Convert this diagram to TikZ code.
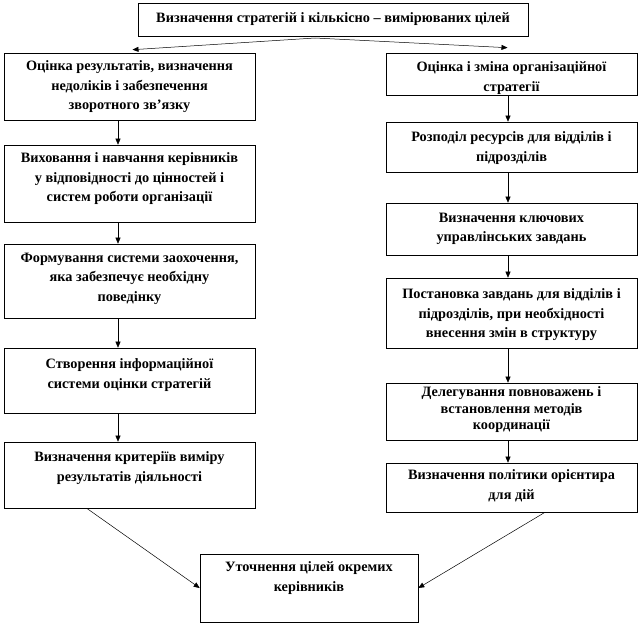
\documentclass[tikz,border=0pt]{standalone}
\usepackage{fontspec}
\setmainfont{Liberation Serif}
\usetikzlibrary{arrows.meta,calc}
\newcommand\bxt[4][9pt]{\parbox[c][#3][t]{#2}{\centering\vspace*{#1}#4\par}}
\tikzset{
  box/.style={draw=black, line width=0.6pt, inner sep=0pt, fill=white,
    font=\fontsize{14.3}{19.5}\selectfont\bfseries},
  conn/.style={line width=0.5pt, -{Triangle[length=6pt,width=5pt]}},
}
\begin{document}
\begin{tikzpicture}[x=1pt,y=-1pt]
\useasboundingbox[fill=white] (0,0) rectangle (640,625);
% top
\node[box] (T) at (333,19.5) {\parbox[c][33pt][c]{390pt}{\centering Визначення стратегій і кількісно – вимірюваних цілей}};
% left column
\node[box] (L1) at (129.5,86.5) {\bxt[8pt]{251pt}{67pt}{Оцінка результатів, визначення\\ недоліків і забезпечення\\ зворотного зв’язку}};
\node[box] (L2) at (129.5,183.5) {\bxt[8pt]{251pt}{77pt}{Виховання і навчання керівників\\ у відповідності до цінностей і\\ систем роботи організації}};
\node[box] (L3) at (129.5,281) {\bxt{251pt}{74pt}{Формування системи заохочення,\\ яка забезпечує необхідну\\ поведінку}};
\node[box] (L4) at (129.5,380.5) {\bxt[11pt]{251pt}{65pt}{Створення інформаційної\\ системи оцінки стратегій}};
\node[box] (L5) at (129.5,475) {\bxt[10pt]{251pt}{66pt}{Визначення критеріїв виміру\\ результатів діяльності}};
% right column
\node[box] (R1) at (511.5,74) {\bxt[9pt]{251pt}{42pt}{Оцінка і зміна організаційної\\ стратегії}};
\node[box] (R2) at (511.5,147) {\bxt[10pt]{251pt}{50pt}{Розподіл ресурсів для відділів і\\ підрозділів}};
\node[box] (R3) at (511.5,229) {\bxt[10pt]{251pt}{52pt}{Визначення ключових\\ управлінських завдань}};
\node[box] (R4) at (511.5,313) {\bxt[11pt]{251pt}{70pt}{Постановка завдань для відділів і\\ підрозділів, при необхідності\\ внесення змін в структуру}};
\node[box] (R5) at (511.5,411.5) {\bxt[4pt]{251pt}{57pt}{\fontsize{14.3}{16.5}\selectfont Делегування повноважень і\\ встановлення методів\\ координації}};
\node[box] (R6) at (511.5,487.5) {\bxt[7pt]{251pt}{49pt}{Визначення політики орієнтира\\ для дій}};
% bottom
\node[box] (B) at (309,588) {\bxt[8pt]{218pt}{68pt}{Уточнення цілей окремих\\ керівників}};
% helper coordinates
\coordinate (ax) at (118,0);
\coordinate (bx) at (508,0);
\coordinate (split) at (315,38);
% top connectors
\draw[conn] (split) -- ($(L1.north)+(3,-3)$);
\draw[conn] (split) -- ($(R1.north)+(-4,-5)$);
% left chain
\draw[conn] (L1.south -| ax) -- (L2.north -| ax);
\draw[conn] (L2.south -| ax) -- (L3.north -| ax);
\draw[conn] (L3.south -| ax) -- (L4.north -| ax);
\draw[conn] (L4.south -| ax) -- (L5.north -| ax);
% right chain
\draw[conn] (R1.south -| bx) -- (R2.north -| bx);
\draw[conn] (R2.south -| bx) -- (R3.north -| bx);
\draw[conn] (R3.south -| bx) -- (R4.north -| bx);
\draw[conn] (R4.south -| bx) -- (R5.north -| bx);
\draw[conn] (R5.south -| bx) -- (R6.north -| bx);
% to bottom
\draw[conn] ($(L5.south west)!0.33!(L5.south east)$) -- (B.west);
\draw[conn] ($(R6.south west)!0.633!(R6.south east)$) -- (B.east);
\end{tikzpicture}
\end{document}
